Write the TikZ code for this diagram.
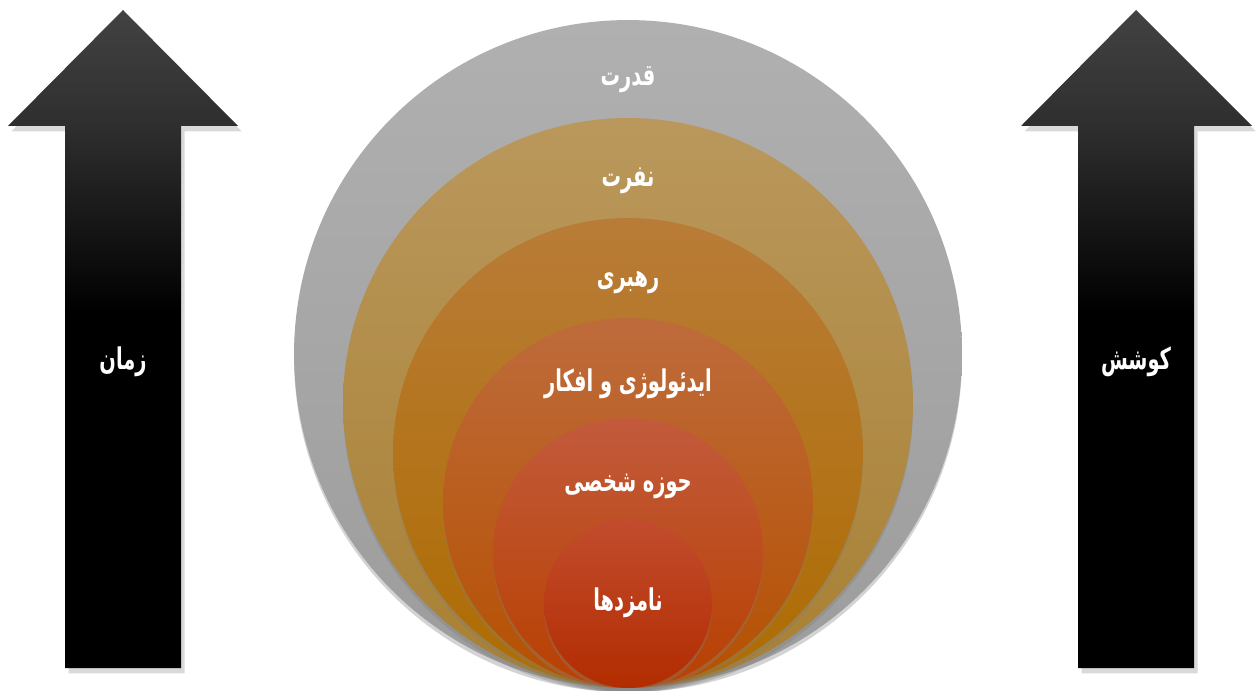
\documentclass[tikz,border=0pt]{standalone}
\usepackage{fontspec}
\usepackage{tikz}
\usetikzlibrary{shadows}
\TeXXeTstate=1
\newfontfamily\fafont[Script=Arabic, FakeStretch=0.65]{DejaVu Sans}
\definecolor{ringgrayT}{HTML}{B0B0B0}
\definecolor{ringgrayB}{HTML}{9C9C9C}
\definecolor{ringtanT}{HTML}{BA985C}
\definecolor{ringtanB}{HTML}{A88034}
\definecolor{ringgoldT}{HTML}{B97C38}
\definecolor{ringgoldB}{HTML}{AE6C00}
\definecolor{ringorangeT}{HTML}{BE6B3C}
\definecolor{ringorangeB}{HTML}{B55000}
\definecolor{ringrustT}{HTML}{C25A3C}
\definecolor{ringrustB}{HTML}{B84000}
\definecolor{ringredT}{HTML}{C24C2E}
\definecolor{ringredB}{HTML}{B22C00}
\pgfdeclareverticalshading{arrowshade}{100bp}{color(0bp)=(black); color(25bp)=(black); color(52bp)=(black); color(66bp)=(black!82); color(75bp)=(black!74); color(100bp)=(black!74)}

\begin{document}
\begin{tikzpicture}[
    x=0.02cm, y=0.02cm,
    ring/.style={circle, inner sep=0pt, draw=none, drop shadow={opacity=0.35, shadow xshift=0pt, shadow yshift=-2.5pt}},
    bigarrow/.style={shading=arrowshade, drop shadow={opacity=0.3, shadow xshift=2pt, shadow yshift=-3pt}},
    lbl/.style={text=white, font=\fafont\bfseries\fontsize{17}{19}\selectfont}
]
\useasboundingbox (0,0) rectangle (1256,690);

% arrows
\shade[bigarrow] (123,680) -- (8,564) -- (65,564) -- (65,22) -- (181,22) -- (181,564) -- (238,564) -- cycle;
\shade[bigarrow] (1136,680) -- (1021,564) -- (1078,564) -- (1078,22) -- (1194,22) -- (1194,564) -- (1252,564) -- cycle;
\node[lbl] (time) at (123,328) {\beginR زمان\endR};
\node[lbl] (effort) at (1136,328) {\beginR کوشش\endR};

% circles
\node[ring, minimum size=13.36cm, top color=ringgrayT, bottom color=ringgrayB] (power) at (628,336) {};
\node[ring, minimum size=11.4cm, top color=ringtanT, bottom color=ringtanB] (hate) at (628,287) {};
\node[ring, minimum size=9.4cm, top color=ringgoldT, bottom color=ringgoldB] (lead) at (628,237) {};
\node[ring, minimum size=7.4cm, top color=ringorangeT, bottom color=ringorangeB] (ideas) at (628,187) {};
\node[ring, minimum size=5.4cm, top color=ringrustT, bottom color=ringrustB] (private) at (628,137) {};
\node[ring, minimum size=3.36cm, top color=ringredT, bottom color=ringredB] (cands) at (628,86) {};

\node[lbl] (power-t) at (628,610) {\beginR قدرت\endR};
\node[lbl] (hate-t) at (628,509) {\beginR نفرت\endR};
\node[lbl] (lead-t) at (628,407) {\beginR رهبری\endR};
\node[lbl] (ideas-t) at (628,306) {\beginR ایدئولوژی و افکار\endR};
\node[lbl] (private-t) at (628,204) {\beginR حوزه شخصی\endR};
\node[lbl] (cands-t) at (628,87) {\beginR نامزدها\endR};
\end{tikzpicture}
\end{document}
